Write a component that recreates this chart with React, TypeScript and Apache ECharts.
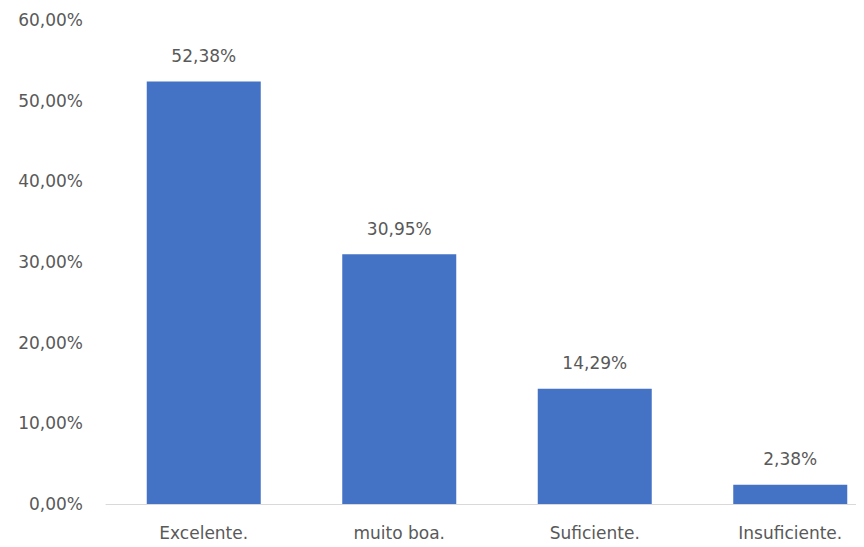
import React, { useEffect, useRef } from "react";
import * as echarts from "echarts";

const categories = ["Excelente.", "muito boa.", "Suficiente.", "Insuficiente."];
const values = [52.38, 30.95, 14.29, 2.38];

const fmt = (v: number) => v.toFixed(2).replace(".", ",") + "%";
const FONT = "'DejaVu Sans', sans-serif";
const TXT = "#595959";
const FS = 17;

export default function App() {
  const ref = useRef<HTMLDivElement>(null);
  useEffect(() => {
    if (!ref.current) return;
    const chart = echarts.init(ref.current, null, { renderer: "svg" });
    chart.setOption({
      animation: false,
      grid: {
        left: 106,
        top: 20,
        width: 782,
        height: 484,
        containLabel: false,
        outerBoundsMode: "none",
      },
      xAxis: {
        type: "category",
        data: categories,
        axisLine: { lineStyle: { color: "#d9d9d9", width: 1 } },
        axisTick: { show: false },
        axisLabel: { color: TXT, fontFamily: FONT, fontSize: FS, margin: 20 },
      },
      yAxis: {
        type: "value",
        min: 0,
        max: 60,
        interval: 10,
        splitLine: { show: false },
        axisLine: { show: false },
        axisTick: { show: false },
        axisLabel: {
          color: TXT,
          fontFamily: FONT,
          fontSize: FS,
          margin: 23,
          formatter: (v: number) => fmt(v),
        },
      },
      series: [
        {
          type: "bar",
          data: values,
          barWidth: 114,
          itemStyle: { color: "#4472C4" },
          label: {
            show: true,
            position: "top",
            distance: 17,
            color: TXT,
            fontFamily: FONT,
            fontSize: FS,
            formatter: (p: any) => fmt(p.value),
          },
        },
      ],
    });
    return () => chart.dispose();
  }, []);
  return <div ref={ref} style={{ width: 864, height: 547, margin: -8 }} />;
}
